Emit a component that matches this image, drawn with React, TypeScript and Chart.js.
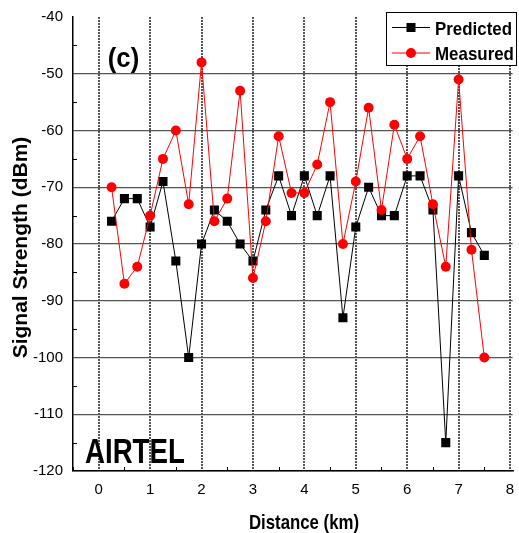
import React, { useEffect, useRef } from "react";
import { Chart, registerables } from "chart.js";

Chart.register(...registerables);

// ---- Data ----
const distanceKm = [0.25, 0.5, 0.75, 1.0, 1.25, 1.5, 1.75, 2.0, 2.25, 2.5, 2.75, 3.0, 3.25, 3.5, 3.75, 4.0, 4.25, 4.5, 4.75, 5.0, 5.25, 5.5, 5.75, 6.0, 6.25, 6.5, 6.75, 7.0, 7.25, 7.5];
const predicted = [-76, -72, -72, -77, -69, -83, -100, -80, -74, -76, -80, -83, -74, -68, -75, -68, -75, -68, -93, -77, -70, -75, -75, -68, -68, -74, -115, -68, -78, -82];
const measured = [-70, -87, -84, -75, -65, -60, -73, -48, -76, -72, -53, -86, -76, -61, -71, -71, -66, -55, -80, -69, -56, -74, -59, -65, -61, -73, -84, -51, -81, -100];

const xTicks = [0, 1, 2, 3, 4, 5, 6, 7, 8];
const yTicks = [-120, -110, -100, -90, -80, -70, -60, -50, -40];
const xMinorTicks = [-0.5, 0.5, 1.5, 2.5, 3.5, 4.5, 5.5, 6.5, 7.5];
const yMinorTicks = [-115, -105, -95, -85, -75, -65, -55, -45];

const seriesNames = ["Predicted", "Measured"];
const xTitle = "Distance (km)";
const yTitle = "Signal Strength (dBm)";
const panelLabel = "(c)";
const operatorLabel = "AIRTEL";

const FONT = '"Liberation Sans", Arial, Helvetica, sans-serif';

function drawText(
  ctx: CanvasRenderingContext2D,
  text: string,
  x: number,
  y: number,
  font: string,
  opts: { align?: CanvasTextAlign; baseline?: CanvasTextBaseline; sx?: number; rot?: number; color?: string } = {}
) {
  ctx.save();
  ctx.translate(x, y);
  if (opts.rot) ctx.rotate(opts.rot);
  ctx.scale(opts.sx ?? 1, 1);
  ctx.font = font;
  ctx.fillStyle = opts.color ?? "#000";
  ctx.textAlign = opts.align ?? "center";
  ctx.textBaseline = opts.baseline ?? "middle";
  ctx.fillText(text, 0, 0);
  ctx.restore();
}

const overlayPlugin = {
  id: "overlay",
  afterDraw(chart: any) {
    const { ctx, chartArea: ca, scales } = chart;
    const xs = scales.x;
    const ys = scales.y;
    ctx.save();
    // minor inward ticks
    ctx.strokeStyle = "#000";
    ctx.lineWidth = 1;
    ctx.beginPath();
    xMinorTicks.forEach((v) => {
      const px = Math.round(xs.getPixelForValue(v)) + 0.5;
      ctx.moveTo(px, ca.bottom);
      ctx.lineTo(px, ca.bottom - 4);
    });
    yMinorTicks.forEach((v) => {
      const py = Math.round(ys.getPixelForValue(v)) + 0.5;
      ctx.moveTo(ca.left, py);
      ctx.lineTo(ca.left + 4, py);
    });
    ctx.stroke();

    // annotations
    drawText(ctx, panelLabel, 123.5, 60, `bold 27px ${FONT}`, { sx: 0.95 });
    drawText(ctx, operatorLabel, 85, 463, `bold 35px ${FONT}`, { align: "left", baseline: "alphabetic", sx: 0.79 });

    // axis titles
    drawText(ctx, xTitle, 304, 529, `bold 21px ${FONT}`, { baseline: "alphabetic", sx: 0.8 });
    drawText(ctx, yTitle, 27, 247.5, `bold 21px ${FONT}`, { baseline: "alphabetic", rot: -Math.PI / 2 });

    // legend
    const bx = 386.5, by = 12.5, bw = 130, bh = 53;
    ctx.fillStyle = "#fff";
    ctx.fillRect(bx, by, bw, bh);
    ctx.strokeStyle = "#000";
    ctx.lineWidth = 1;
    ctx.strokeRect(bx, by, bw, bh);
    const rows = [
      { y: 27.5, color: "#000", marker: "rect", name: seriesNames[0], base: 34.5 },
      { y: 53, color: "#ff0000", marker: "circle", name: seriesNames[1], base: 60 },
    ];
    rows.forEach((r) => {
      ctx.strokeStyle = r.color;
      ctx.lineWidth = 1;
      ctx.beginPath();
      ctx.moveTo(392, r.y);
      ctx.lineTo(430, r.y);
      ctx.stroke();
      ctx.fillStyle = r.color;
      if (r.marker === "rect") {
        ctx.fillRect(411 - 4.5, r.y - 4.5, 9, 9);
      } else {
        ctx.beginPath();
        ctx.arc(411, r.y, 5, 0, Math.PI * 2);
        ctx.fill();
      }
      drawText(ctx, r.name, 435, r.base, `bold 19px ${FONT}`, { align: "left", baseline: "alphabetic", sx: 0.89 });
    });
    ctx.restore();
  },
};

export default function App() {
  const canvasRef = useRef<HTMLCanvasElement | null>(null);

  useEffect(() => {
    document.body.style.margin = "0";
    const canvas = canvasRef.current;
    if (!canvas) return;
    const chart = new Chart(canvas, {
      type: "line",
      data: {
        datasets: [
          {
            label: seriesNames[0],
            data: distanceKm.map((d, i) => ({ x: d, y: predicted[i] })),
            borderColor: "#000",
            backgroundColor: "#000",
            borderWidth: 1,
            pointStyle: "rect",
            pointRadius: 6.4,
            pointBorderWidth: 0,
            pointBackgroundColor: "#000",
            tension: 0,
            order: 1,
          },
          {
            label: seriesNames[1],
            data: distanceKm.map((d, i) => ({ x: d, y: measured[i] })),
            borderColor: "#ff0000",
            backgroundColor: "#ff0000",
            borderWidth: 1,
            pointStyle: "circle",
            pointRadius: 5,
            pointBorderWidth: 0,
            pointBackgroundColor: "#ff0000",
            tension: 0,
            order: 0,
          },
        ],
      },
      options: {
        responsive: false,
        animation: false,
        devicePixelRatio: 1,
        layout: { padding: { top: 17, right: 2, left: 0, bottom: 0 } },
        plugins: {
          legend: { display: false },
          tooltip: { enabled: false },
        },
        scales: {
          x: {
            type: "linear",
            min: -0.5,
            max: 8.05,
            afterBuildTicks: (s: any) => {
              s.ticks = xTicks.map((v) => ({ value: v }));
            },
            afterFit: (s: any) => {
              s.height = 62;
              s.paddingLeft = 0;
              s.paddingRight = 0;
            },
            ticks: {
              color: "#000",
              font: { family: FONT, size: 15 },
              padding: 10,
              maxRotation: 0,
              autoSkip: false,
            },
            grid: {
              color: "#555",
              lineWidth: 2,
              drawTicks: false,
            },
            border: { display: true, color: "#000", width: 1.5, dash: [2, 1] },
          },
          y: {
            type: "linear",
            min: -120,
            max: -40,
            afterBuildTicks: (s: any) => {
              s.ticks = yTicks.map((v) => ({ value: v }));
            },
            afterFit: (s: any) => {
              s.width = 73;
              s.paddingTop = 0;
              s.paddingBottom = 0;
            },
            ticks: {
              color: "#000",
              font: { family: FONT, size: 15 },
              padding: 10,
              autoSkip: false,
            },
            grid: {
              color: (c: any) => (c.tick && c.tick.value === -40 ? "rgba(0,0,0,0)" : "#555"),
              lineWidth: 1.2,
              drawTicks: false,
            },
            border: { display: true, color: "#000", width: 1.5 },
          },
        },
      },
      plugins: [overlayPlugin],
    });
    return () => chart.destroy();
  }, []);

  return (
    <div style={{ position: "absolute", left: 0, top: 0, width: 519, height: 533 }}>
      <canvas ref={canvasRef} width={519} height={533} style={{ width: 519, height: 533, display: "block" }} />
    </div>
  );
}
